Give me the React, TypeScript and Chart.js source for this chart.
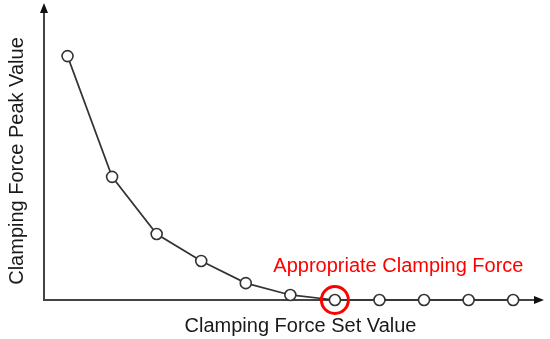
import React, { useEffect, useRef } from "react";
import { Chart, registerables } from "chart.js";

Chart.register(...registerables);

const setValues = [1, 2, 3, 4, 5, 6, 7, 8, 9, 10, 11];
const peakValues = [82.4, 41.6, 22.3, 13.2, 5.7, 1.7, 0, 0, 0, 0, 0];
const appropriateIndex = 6;
const xTitle = "Clamping Force Set Value";
const yTitle = "Clamping Force Peak Value";
const annotationText = "Appropriate Clamping Force";

const FONT = '"Liberation Sans", Arial, sans-serif';

const axesPlugin = {
  id: "arrowAxes",
  beforeDatasetsDraw(chart: any) {
    const { ctx, chartArea } = chart;
    const { left, right, top, bottom } = chartArea;
    ctx.save();
    ctx.strokeStyle = "#444";
    ctx.fillStyle = "#111";
    ctx.lineWidth = 2;
    ctx.beginPath();
    ctx.moveTo(left, bottom);
    ctx.lineTo(left, top + 8);
    ctx.moveTo(left - 1, bottom);
    ctx.lineTo(right - 8, bottom);
    ctx.stroke();
    // y arrow
    ctx.beginPath();
    ctx.moveTo(left, top - 1);
    ctx.lineTo(left - 4, top + 9);
    ctx.lineTo(left + 4, top + 9);
    ctx.closePath();
    ctx.fill();
    // x arrow
    ctx.beginPath();
    ctx.moveTo(right + 1, bottom);
    ctx.lineTo(right - 9, bottom - 4);
    ctx.lineTo(right - 9, bottom + 4);
    ctx.closePath();
    ctx.fill();
    ctx.restore();
  },
  afterDraw(chart: any) {
    const { ctx, chartArea } = chart;
    const xs = chart.scales.x;
    const ys = chart.scales.y;
    ctx.save();
    ctx.font = `20px ${FONT}`;
    ctx.fillStyle = "#1a1a1a";
    ctx.textAlign = "center";
    ctx.textBaseline = "alphabetic";
    ctx.fillText(xTitle, 300.5, chartArea.bottom + 32);
    ctx.save();
    ctx.translate(23, 161);
    ctx.rotate(-Math.PI / 2);
    ctx.fillText(yTitle, 0, 0);
    ctx.restore();
    const px = xs.getPixelForValue(setValues[appropriateIndex]);
    const py = ys.getPixelForValue(peakValues[appropriateIndex]);
    ctx.fillStyle = "#ff0000";
    ctx.fillText(annotationText, px + 63.5, py - 28);
    ctx.restore();
  },
};

export default function App() {
  const ref = useRef<HTMLCanvasElement | null>(null);
  useEffect(() => {
    document.body.style.margin = "0";
    const canvas = ref.current;
    if (!canvas) return;
    const chart = new Chart(canvas, {
      type: "line",
      data: {
        datasets: [
          {
            data: setValues.map((x, i) => ({ x, y: peakValues[i] })),
            borderColor: "#333",
            borderWidth: 1.7,
            pointRadius: 5.5,
            pointBorderWidth: 1.6,
            pointBorderColor: "#333",
            pointBackgroundColor: "#fff",
            tension: 0,
            clip: false as any,
            order: 2,
          },
          {
            data: [{ x: setValues[appropriateIndex], y: peakValues[appropriateIndex] }],
            showLine: false,
            pointRadius: 13.5,
            pointBorderWidth: 3,
            pointBorderColor: "#ff0000",
            pointBackgroundColor: "rgba(0,0,0,0)",
            clip: false as any,
            order: 1,
          },
        ],
      },
      options: {
        animation: false,
        responsive: false,
        devicePixelRatio: 1,
        events: [],
        layout: { autoPadding: false, padding: { left: 44, right: 7, top: 4, bottom: 39 } },
        plugins: { legend: { display: false }, tooltip: { enabled: false } },
        scales: {
          x: { type: "linear", min: 0.472, max: 11.67, display: false },
          y: { type: "linear", min: 0, max: 100, display: false },
        },
      },
      plugins: [axesPlugin],
    });
    return () => chart.destroy();
  }, []);
  return (
    <div style={{ width: 550, height: 339, background: "#fff" }}>
      <canvas ref={ref} width={550} height={339} style={{ display: "block" }} />
    </div>
  );
}
